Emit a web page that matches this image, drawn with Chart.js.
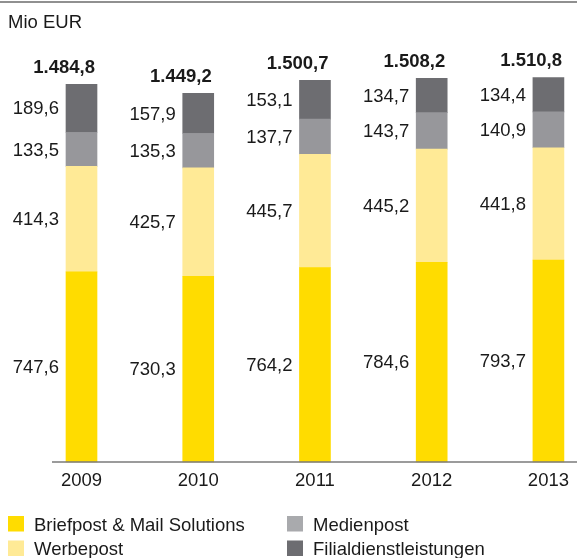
<!DOCTYPE html>
<html>
<head>
    <title>Umsatz Mio EUR</title>
    <script src="https://cdn.jsdelivr.net/npm/chart.js@4.4.1/dist/chart.umd.min.js"></script>
    <style>
        body { margin: 0; background: #fff; }
        canvas { display: block; }
    </style>
</head>
<body>
    <canvas id="umsatzChart" width="577" height="558"></canvas>

    <script>
        // Daten
        const years = ['2009', '2010', '2011', '2012', '2013'];
        const briefpost = [747.6, 730.3, 764.2, 784.6, 793.7];
        const werbepost = [414.3, 425.7, 445.7, 445.2, 441.8];
        const medienpost = [133.5, 135.3, 137.7, 143.7, 140.9];
        const filiale = [189.6, 157.9, 153.1, 134.7, 134.4];
        const totals = [1484.8, 1449.2, 1500.7, 1508.2, 1510.8];

        const seriesNames = ['Briefpost & Mail Solutions', 'Werbepost', 'Medienpost', 'Filialdienstleistungen'];
        const seriesColors = ['#ffdc00', '#ffea96', '#97979b', '#6d6d71'];
        const legendColors = ['#ffdc00', '#ffea96', '#a9aaad', '#6d6d71'];

        const FONT = 'Liberation Sans, Arial, Helvetica, sans-serif';
        const TEXT = '#1a1a1a';

        // Zahlen im deutschen Format
        function fmt(v) {
            const parts = v.toFixed(1).split('.');
            const int = parts[0].replace(/\B(?=(\d{3})+(?!\d))/g, '.');
            return int + ',' + parts[1];
        }

        // Beschriftungen, Achse, Legende
        const decorPlugin = {
            id: 'decor',
            afterDraw(chart) {
                const ctx = chart.ctx;
                const x = chart.scales.x;
                ctx.save();

                // Linie oben
                ctx.strokeStyle = '#222';
                ctx.lineWidth = 1.2;
                ctx.beginPath();
                ctx.moveTo(0, 2);
                ctx.lineTo(chart.width, 2);
                ctx.stroke();

                // Einheit
                ctx.fillStyle = TEXT;
                ctx.font = '18.5px ' + FONT;
                ctx.textAlign = 'left';
                ctx.textBaseline = 'alphabetic';
                ctx.fillText('Mio EUR', 8, 27.5);

                // x-Achse
                ctx.strokeStyle = '#7a7a7a';
                ctx.lineWidth = 1.6;
                ctx.beginPath();
                ctx.moveTo(52, chart.chartArea.bottom);
                ctx.lineTo(chart.width, chart.chartArea.bottom);
                ctx.stroke();

                // Segmentwerte links neben den Säulen
                ctx.font = '18.5px ' + FONT;
                ctx.textAlign = 'right';
                ctx.textBaseline = 'middle';
                chart.data.datasets.forEach((ds, di) => {
                    const meta = chart.getDatasetMeta(di);
                    meta.data.forEach((bar, i) => {
                        const left = bar.x - bar.width / 2;
                        const mid = (bar.y + bar.base) / 2;
                        ctx.fillText(fmt(ds.data[i]), left - 7, mid + 1);
                    });
                });

                // Summen
                const topMeta = chart.getDatasetMeta(chart.data.datasets.length - 1);
                ctx.font = 'bold 18.5px ' + FONT;
                ctx.textBaseline = 'alphabetic';
                topMeta.data.forEach((bar, i) => {
                    const right = bar.x + bar.width / 2;
                    ctx.fillText(fmt(totals[i]), right - 2, bar.y - 11.5);
                });

                // Legende (2 Spalten)
                ctx.font = '18.5px ' + FONT;
                ctx.textAlign = 'left';
                seriesNames.forEach((name, i) => {
                    const col = Math.floor(i / 2);
                    const row = i % 2;
                    const bx = col === 0 ? 8 : 287;
                    const by = 516 + row * 24.5;
                    ctx.fillStyle = legendColors[i];
                    ctx.fillRect(bx, by, 16, 15.5);
                    ctx.fillStyle = TEXT;
                    ctx.fillText(name, bx + 26, by + 14.8);
                });

                ctx.restore();
            }
        };

        const seriesData = [briefpost, werbepost, medienpost, filiale];

        const ctx = document.getElementById('umsatzChart').getContext('2d');
        new Chart(ctx, {
            type: 'bar',
            data: {
                labels: years,
                datasets: seriesData.map((d, i) => ({
                    label: seriesNames[i],
                    data: d,
                    backgroundColor: seriesColors[i],
                    borderWidth: 0,
                    barThickness: 31,
                    clip: false
                }))
            },
            options: {
                responsive: false,
                animation: false,
                layout: {
                    padding: { left: 81.5, right: 28.5, top: 55, bottom: 0 }
                },
                plugins: {
                    legend: { display: false },
                    tooltip: { enabled: false },
                    title: { display: false }
                },
                scales: {
                    x: {
                        stacked: true,
                        offset: false,
                        grid: { display: false, drawTicks: false },
                        border: { display: false },
                        ticks: {
                            color: TEXT,
                            font: { family: FONT, size: 18.5 },
                            padding: 8,
                            maxRotation: 0
                        },
                        afterFit(scale) { scale.height = 96; }
                    },
                    y: {
                        stacked: true,
                        display: false,
                        min: 0,
                        max: 1600
                    }
                }
            },
            plugins: [decorPlugin]
        });
    </script>
</body>
</html>
